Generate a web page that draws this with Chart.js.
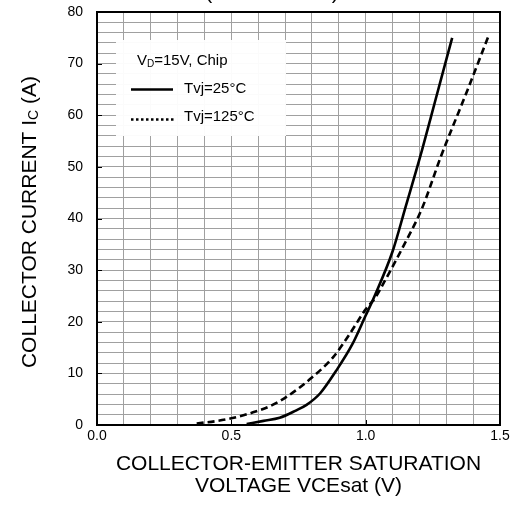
<!DOCTYPE html>
<html>
<head>
<meta charset="utf-8">
<script src="https://cdn.jsdelivr.net/npm/chart.js@4"></script>
<style>
  body { margin: 0; background: #fff; }
  #wrap { width: 510px; height: 505px; }
</style>
</head>
<body>
<div id="wrap"><canvas id="chartVce" width="510" height="505"></canvas></div>
<script>
// Curve data
const vce25 = [0.557, 0.62, 0.68, 0.74, 0.78, 0.83, 0.89, 0.95, 1.00, 1.03, 1.10, 1.15, 1.21, 1.26, 1.322];
const ic25  = [0.2, 0.8, 1.4, 2.8, 3.9, 6.1, 10.5, 15.6, 21.2, 24.6, 33.6, 42.5, 53.3, 63.0, 75.0];
const vce125 = [0.371, 0.45, 0.50, 0.59, 0.65, 0.71, 0.80, 0.88, 0.94, 1.00, 1.035, 1.07, 1.14, 1.21, 1.28, 1.38, 1.456];
const ic125  = [0.3, 0.8, 1.3, 2.6, 3.8, 5.6, 9.2, 13.2, 17.6, 22.4, 24.6, 27.8, 34.6, 42.0, 52.0, 65.0, 75.2];

const xTickLabels = ['0.0', '0.5', '1.0', '1.5'];
const yTickLabels = ['0', '10', '20', '30', '40', '50', '60', '70', '80'];
const seriesNames = ['Tvj=25°C', 'Tvj=125°C'];

const FONT = 'Arial, "Liberation Sans", sans-serif';

const toPoints = (xs, ys) => xs.map((x, i) => ({ x: x, y: ys[i] }));
const isMult = (v, step) => Math.abs(v / step - Math.round(v / step)) < 1e-6;

// frame, inward ticks, clipped title, y title with subscript
const framePlugin = {
    id: 'frame',
    beforeDatasetsDraw(chart) {
        const ctx = chart.ctx;
        // legend box
        ctx.save();
        ctx.fillStyle = 'rgba(255,255,255,0.96)';
        ctx.fillRect(116, 40, 170, 96);
        ctx.fillStyle = '#000';
        ctx.textBaseline = 'middle';
        ctx.font = '15px ' + FONT;
        ctx.fillText('V', 137, 60.5);
        let w = ctx.measureText('V').width;
        ctx.font = '10px ' + FONT;
        ctx.fillText('D', 137 + w, 64);
        w += ctx.measureText('D').width;
        ctx.font = '15px ' + FONT;
        ctx.fillText('=15V, Chip', 137 + w, 60.5);
        ctx.fillText(seriesNames[0], 184, 88.5);
        ctx.fillText(seriesNames[1], 184, 116.5);
        ctx.strokeStyle = '#000';
        ctx.lineWidth = 2.6;
        ctx.beginPath();
        ctx.moveTo(131, 89.5); ctx.lineTo(173, 89.5);
        ctx.stroke();
        ctx.lineWidth = 2.4;
        ctx.setLineDash([2.5, 2.5]);
        ctx.beginPath();
        ctx.moveTo(131, 119.5); ctx.lineTo(174, 119.5);
        ctx.stroke();
        ctx.restore();
    },
    afterDraw(chart) {
        const ctx = chart.ctx;
        const ca = chart.chartArea;
        const xs = chart.scales.x, ys = chart.scales.y;
        ctx.save();
        ctx.strokeStyle = '#000';
        ctx.lineWidth = 2;
        ctx.strokeRect(ca.left, ca.top, ca.right - ca.left, ca.bottom - ca.top);
        ctx.lineWidth = 1;
        ctx.beginPath();
        xTickLabels.forEach(t => {
            const px = Math.round(xs.getPixelForValue(parseFloat(t))) + 0.5;
            ctx.moveTo(px, ca.bottom); ctx.lineTo(px, ca.bottom - 5);
        });
        yTickLabels.forEach(t => {
            const py = Math.round(ys.getPixelForValue(parseFloat(t))) + 0.5;
            ctx.moveTo(ca.left, py); ctx.lineTo(ca.left + 5, py);
        });
        ctx.stroke();

        // title, mostly above the visible area
        ctx.fillStyle = '#000';
        ctx.font = '21px ' + FONT;
        ctx.textAlign = 'center';
        ctx.textBaseline = 'alphabetic';
        ctx.letterSpacing = '4px';
        ctx.fillText('(TYPICAL)', 274, -1);
        ctx.letterSpacing = '0px';

        // y axis title with subscript
        ctx.translate(30, 222);
        ctx.rotate(-Math.PI / 2);
        ctx.textAlign = 'left';
        ctx.textBaseline = 'middle';
        const partA = 'COLLECTOR CURRENT I';
        const partB = 'C';
        const partC = ' (A)';
        ctx.font = '21px ' + FONT;
        const wa = ctx.measureText(partA).width;
        const wc = ctx.measureText(partC).width;
        ctx.font = '14px ' + FONT;
        const wb = ctx.measureText(partB).width;
        let x0 = -(wa + wb + wc) / 2;
        ctx.font = '21px ' + FONT;
        ctx.fillText(partA, x0, 0);
        ctx.font = '14px ' + FONT;
        ctx.fillText(partB, x0 + wa, 4);
        ctx.font = '21px ' + FONT;
        ctx.fillText(partC, x0 + wa + wb, 0);
        ctx.restore();
    }
};

new Chart(document.getElementById('chartVce'), {
    type: 'line',
    data: {
        datasets: [{
            label: seriesNames[0],
            data: toPoints(vce25, ic25),
            borderColor: '#000',
            borderWidth: 2.6,
            pointRadius: 0,
            cubicInterpolationMode: 'monotone'
        }, {
            label: seriesNames[1],
            data: toPoints(vce125, ic125),
            borderColor: '#000',
            borderWidth: 2.6,
            borderDash: [7, 4],
            pointRadius: 0,
            cubicInterpolationMode: 'monotone'
        }]
    },
    options: {
        responsive: false,
        animation: false,
        layout: { padding: { left: 0, right: 10, top: 12, bottom: 0 } },
        plugins: { legend: { display: false }, tooltip: { enabled: false } },
        scales: {
            x: {
                type: 'linear',
                min: 0, max: 1.5,
                grid: { color: '#a0a0a0', lineWidth: 1, drawTicks: false },
                border: { display: false },
                ticks: {
                    stepSize: 0.1, autoSkip: false, maxRotation: 0, padding: 3,
                    color: '#000', font: { family: FONT, size: 14 },
                    callback: v => isMult(v, 0.5) ? xTickLabels[Math.round(v / 0.5)] : ''
                },
                title: {
                    display: true,
                    text: ['COLLECTOR-EMITTER SATURATION', 'VOLTAGE VCEsat (V)'],
                    color: '#000',
                    font: { family: FONT, size: 21, lineHeight: 1.05 },
                    padding: { top: 0, bottom: 8 }
                },
                afterFit: s => { s.height = 80; s.paddingLeft = 0; s.paddingRight = 0; }
            },
            y: {
                min: 0, max: 80,
                grid: { color: '#a0a0a0', lineWidth: 1, drawTicks: false },
                border: { display: false },
                ticks: {
                    stepSize: 2, autoSkip: false, padding: 14,
                    color: '#000', font: { family: FONT, size: 14 },
                    callback: v => isMult(v, 10) ? yTickLabels[Math.round(v / 10)] : ''
                },
                afterFit: s => { s.width = 97; s.paddingTop = 0; s.paddingBottom = 0; }
            }
        }
    },
    plugins: [framePlugin]
});
</script>
</body>
</html>
